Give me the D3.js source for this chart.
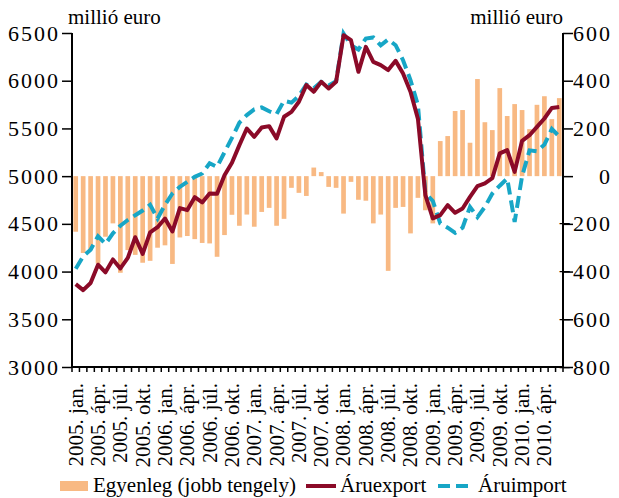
<!DOCTYPE html>
<html>
<head>
<meta charset="utf-8">
<script src="https://cdn.jsdelivr.net/npm/d3@7"></script>
<style>
  body { margin: 0; background: #fff; }
  svg { display: block; }
  text { font-family: "Liberation Serif", "DejaVu Serif", serif; fill: #000; }
</style>
</head>
<body>
<svg width="619" height="498"></svg>
<script>
// monthly categories, 2005 jan. - 2010 jún.
const years = [2005, 2006, 2007, 2008, 2009, 2010];
const monthNames = ["jan.", "febr.", "márc.", "ápr.", "máj.", "jún.", "júl.", "aug.", "szept.", "okt.", "nov.", "dec."];
const categories = years.flatMap(y => monthNames.map(m => `${y}. ${m}`)).slice(0, 66);
const tickLabels = categories.filter((d, i) => i % 3 === 0);

// Egyenleg (jobb tengely), millió euro
const balance = [
  -233, -322, -310, -366, -254, -198, -405, -310, -330, -363, -355, -300,
  -290, -368, -257, -251, -264, -280, -282, -338, -247, -162, -208, -161,
  -212, -150, -133, -208, -179, -49, -70, -83, 36, 17, -45, -49,
  -157, -24, -99, -103, -198, -161, -397, -133, -129, -240, -91, -143,
  -198, 147, 168, 273, 277, 140, 407, 226, 193, 369, 252, 302,
  277, 197, 299, 335, 239, 327
];

// Áruexport, millió euro
const exportVals = [
  3868, 3805, 3880, 4072, 3992, 4127, 4033, 4143, 4360, 4185, 4410, 4465,
  4556, 4420, 4665, 4644, 4780, 4724, 4818, 4815, 5010, 5140, 5325, 5499,
  5412, 5509, 5524, 5395, 5622, 5674, 5779, 5954, 5884, 5988, 5919, 5988,
  6477, 6425, 6093, 6355, 6198, 6163, 6111, 6208, 6076, 5884, 5600, 4801,
  4557, 4591, 4696, 4616, 4661, 4783, 4895, 4925, 4980, 5238, 5272, 5045,
  5370, 5429, 5517, 5604, 5715, 5725
];

// Áruimport, millió euro
const importVals = [
  4030, 4160, 4230, 4370, 4290, 4400, 4480, 4540, 4590, 4640, 4700, 4556,
  4700, 4818, 4888, 4940, 4993, 5028, 5135, 5097, 5250, 5400, 5560, 5640,
  5700, 5720, 5680, 5650, 5790, 5770, 5840, 5960, 5920, 5988, 5950, 5995,
  6495, 6372, 6327, 6442, 6453, 6372, 6432, 6372, 6215, 6006, 5744, 4822,
  4740, 4504, 4460, 4406, 4460, 4678, 4571, 4678, 4818, 4900, 4975, 4521,
  5000, 5270, 5260, 5330, 5495, 5415
];

const leftTicks = [3000, 3500, 4000, 4500, 5000, 5500, 6000, 6500];
const rightTicks = [-800, -600, -400, -200, 0, 200, 400, 600];

const margin = { top: 33, right: 56, bottom: 131, left: 72 };
const width = 619 - margin.left - margin.right;
const height = 498 - margin.top - margin.bottom;

const svg = d3.select("svg");
const g = svg.append("g").attr("transform", `translate(${margin.left},${margin.top})`);

const x = d3.scaleBand()
    .domain(categories)
    .range([0, width])
    .paddingInner(0.37)
    .paddingOuter(0.185);

const yLeft = d3.scaleLinear().domain([3000, 6500]).range([height, 0]);
const yRight = d3.scaleLinear().domain([-800, 600]).range([height, 0]);

const barColor = "#f8b983";
const exportColor = "#8b0a28";
const importColor = "#17a6c6";

// bars
g.append("g")
    .selectAll("rect")
    .data(balance)
    .join("rect")
    .attr("x", (d, i) => x(categories[i]))
    .attr("width", x.bandwidth())
    .attr("y", d => yRight(Math.max(0, d)))
    .attr("height", d => Math.abs(yRight(d) - yRight(0)))
    .attr("fill", barColor);

const cx = i => x(categories[i]) + x.bandwidth() / 2;

g.append("path")
    .datum(importVals)
    .attr("fill", "none")
    .attr("stroke", importColor)
    .attr("stroke-width", 4)
    .attr("stroke-dasharray", "12,6")
    .attr("d", d3.line().x((d, i) => cx(i)).y(d => yLeft(d)));

g.append("path")
    .datum(exportVals)
    .attr("fill", "none")
    .attr("stroke", exportColor)
    .attr("stroke-width", 4)
    .attr("stroke-linejoin", "round")
    .attr("d", d3.line().x((d, i) => cx(i)).y(d => yLeft(d)));

// axes
const leftAxis = g.append("g")
    .call(d3.axisLeft(yLeft).tickValues(leftTicks).tickSize(10).tickPadding(4).tickFormat(d3.format("d")));
const rightAxis = g.append("g")
    .attr("transform", `translate(${width},0)`)
    .call(d3.axisRight(yRight).tickValues(rightTicks).tickSize(10).tickPadding(4)
        .tickFormat(d => d < 0 ? "\u2212" + Math.abs(d) : d));

[leftAxis, rightAxis].forEach(a => {
  a.select(".domain").attr("stroke-width", 2).attr("d", `M0,0V${height}`);
  a.selectAll(".tick line").attr("stroke-width", 1.5);
  a.selectAll("text").style("font-size", "22px").style("letter-spacing", "2px").attr("font-family", null);
});
leftAxis.selectAll("text").attr("x", -12);
rightAxis.selectAll("text").attr("text-anchor", "end").attr("x", 49);

const bottomAxis = g.append("g")
    .attr("transform", `translate(0,${height})`);
bottomAxis.append("line")
    .attr("x1", 0).attr("x2", width)
    .attr("stroke", "#000").attr("stroke-width", 2);
bottomAxis.selectAll(".mt")
    .data(d3.range(categories.length + 1))
    .join("line")
    .attr("class", "mt")
    .attr("x1", i => i * x.step())
    .attr("x2", i => i * x.step())
    .attr("y1", 0).attr("y2", 5)
    .attr("stroke", "#000").attr("stroke-width", 1.5);
bottomAxis.selectAll(".lbl")
    .data(tickLabels)
    .join("text")
    .attr("class", "lbl")
    .attr("transform", d => `translate(${x(d) + x.bandwidth() / 2},16) rotate(-90)`)
    .attr("dy", "0.33em")
    .attr("text-anchor", "end")
    .style("font-size", "21px")
    .text(d => d);

// units
svg.append("text").attr("x", 68).attr("y", 24).style("font-size", "21px").text("millió euro");
svg.append("text").attr("x", 563).attr("y", 24).attr("text-anchor", "end").style("font-size", "21px").text("millió euro");

// legend
const lg = svg.append("g").attr("transform", "translate(0,487)");
lg.append("rect").attr("x", 60).attr("y", -6).attr("width", 28).attr("height", 10).attr("fill", barColor);
lg.append("text").attr("x", 93).attr("y", 5).style("font-size", "21px").text("Egyenleg (jobb tengely)");
lg.append("line").attr("x1", 306).attr("x2", 336).attr("y1", -1).attr("y2", -1)
    .attr("stroke", exportColor).attr("stroke-width", 4);
lg.append("text").attr("x", 340).attr("y", 5).style("font-size", "21px").text("Áruexport");
lg.append("line").attr("x1", 438).attr("x2", 474).attr("y1", -1).attr("y2", -1)
    .attr("stroke", importColor).attr("stroke-width", 4).attr("stroke-dasharray", "12,6");
lg.append("text").attr("x", 478).attr("y", 5).style("font-size", "21px").text("Áruimport");
</script>
</body>
</html>
